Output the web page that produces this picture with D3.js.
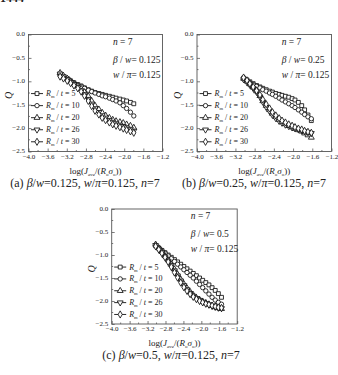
<!DOCTYPE html>
<html>
<head>
<meta charset="utf-8">
<script src="https://cdn.jsdelivr.net/npm/d3@7"></script>
<style>
  body { margin: 0; background: #fff; }
  svg { display: block; }
  text { font-family: "Liberation Serif", "Times New Roman", serif; fill: #222; }
</style>
</head>
<body>
<div id="fig"></div>
<script>
// x values of the curves, one grid per panel
var xA = [-3.34, -3.27, -3.19, -3.12, -3.05, -2.97, -2.90, -2.83, -2.75, -2.68, -2.61, -2.53, -2.46, -2.39, -2.31, -2.24, -2.17, -2.09, -2.02, -1.95, -1.87, -1.80];
var xB = [-3.03, -2.96, -2.90, -2.83, -2.76, -2.69, -2.63, -2.56, -2.49, -2.43, -2.36, -2.29, -2.23, -2.16, -2.09, -2.02, -1.96, -1.89, -1.82, -1.76, -1.69, -1.62];
var xC = [-3.02, -2.95, -2.88, -2.81, -2.74, -2.67, -2.60, -2.53, -2.46, -2.39, -2.32, -2.25, -2.18, -2.11, -2.04, -1.97, -1.90, -1.83, -1.76, -1.69, -1.62, -1.55];

// Q values, panel (a)
var qA5  = [-0.85, -0.90, -0.94, -0.99, -1.03, -1.07, -1.10, -1.14, -1.18, -1.21, -1.24, -1.26, -1.28, -1.30, -1.32, -1.34, -1.36, -1.38, -1.40, -1.42, -1.45, -1.48];
var qA10 = [-0.87, -0.91, -0.96, -1.00, -1.04, -1.08, -1.11, -1.15, -1.19, -1.22, -1.25, -1.28, -1.31, -1.33, -1.36, -1.39, -1.42, -1.46, -1.52, -1.58, -1.66, -1.74];
var qA20 = [-0.82, -0.88, -0.94, -1.00, -1.05, -1.10, -1.16, -1.23, -1.32, -1.42, -1.52, -1.60, -1.67, -1.73, -1.78, -1.82, -1.85, -1.87, -1.89, -1.92, -1.95, -1.99];
var qA26 = [-0.84, -0.90, -0.96, -1.02, -1.07, -1.13, -1.20, -1.28, -1.38, -1.48, -1.58, -1.66, -1.73, -1.78, -1.83, -1.87, -1.90, -1.93, -1.96, -1.99, -2.02, -2.06];
var qA30 = [-0.90, -0.94, -0.99, -1.04, -1.09, -1.15, -1.22, -1.31, -1.42, -1.53, -1.63, -1.71, -1.78, -1.83, -1.88, -1.92, -1.95, -1.98, -2.01, -2.04, -2.07, -2.10];

// Q values, panel (b)
var qB5  = [-0.93, -0.97, -1.01, -1.05, -1.09, -1.12, -1.15, -1.18, -1.21, -1.23, -1.26, -1.28, -1.30, -1.32, -1.34, -1.37, -1.40, -1.45, -1.52, -1.61, -1.72, -1.84];
var qB10 = [-0.95, -0.99, -1.03, -1.07, -1.11, -1.14, -1.18, -1.21, -1.25, -1.28, -1.32, -1.36, -1.40, -1.44, -1.48, -1.52, -1.56, -1.61, -1.66, -1.71, -1.76, -1.80];
var qB20 = [-0.94, -1.00, -1.06, -1.13, -1.21, -1.31, -1.42, -1.52, -1.61, -1.69, -1.76, -1.82, -1.87, -1.91, -1.95, -1.98, -2.01, -2.04, -2.07, -2.11, -2.15, -2.20];
var qB26 = [-0.96, -1.02, -1.08, -1.15, -1.23, -1.33, -1.44, -1.55, -1.64, -1.72, -1.79, -1.85, -1.89, -1.93, -1.96, -1.99, -2.01, -2.03, -2.05, -2.07, -2.09, -2.11];
var qB30 = [-0.92, -0.98, -1.05, -1.12, -1.20, -1.29, -1.39, -1.49, -1.58, -1.66, -1.73, -1.79, -1.84, -1.88, -1.92, -1.95, -1.98, -2.01, -2.03, -2.06, -2.08, -2.10];

// Q values, panel (c)
var qC5  = [-0.80, -0.85, -0.90, -0.95, -1.00, -1.05, -1.10, -1.15, -1.20, -1.25, -1.30, -1.35, -1.40, -1.45, -1.50, -1.55, -1.60, -1.65, -1.71, -1.77, -1.84, -1.92];
var qC10 = [-0.78, -0.84, -0.90, -0.96, -1.02, -1.08, -1.14, -1.20, -1.26, -1.32, -1.38, -1.44, -1.50, -1.57, -1.64, -1.71, -1.78, -1.85, -1.92, -1.98, -2.03, -2.07];
var qC20 = [-0.77, -0.85, -0.93, -1.02, -1.11, -1.21, -1.31, -1.42, -1.53, -1.63, -1.72, -1.80, -1.87, -1.93, -1.97, -2.01, -2.04, -2.07, -2.10, -2.13, -2.15, -2.17];
var qC26 = [-0.79, -0.87, -0.95, -1.04, -1.13, -1.23, -1.34, -1.45, -1.56, -1.66, -1.75, -1.83, -1.89, -1.94, -1.98, -2.02, -2.05, -2.08, -2.11, -2.13, -2.15, -2.16];
var qC30 = [-0.81, -0.88, -0.96, -1.05, -1.15, -1.26, -1.38, -1.49, -1.60, -1.70, -1.78, -1.85, -1.91, -1.96, -2.00, -2.03, -2.06, -2.08, -2.10, -2.12, -2.14, -2.15];

var ratios = [5, 10, 20, 26, 30];
var xTicks = [-4.0, -3.6, -3.2, -2.8, -2.4, -2.0, -1.6, -1.2];
var yTicks = [0.0, -0.5, -1.0, -1.5, -2.0, -2.5];
var betaLabels = ["0.125", "0.25", "0.5"];
var captions = ["(a)", "(b)", "(c)"];

var width = 338, height = 375;

var svg = d3.select("#fig").append("svg")
  .attr("width", width)
  .attr("height", height);

// page header, clipped at the top edge
svg.append("text").attr("x", 0).attr("y", 2)
  .style("font-size", "12px").style("font-weight", "bold")
  .text("1444");

var symbols = [
  d3.symbol().type(d3.symbolSquare).size(15),
  d3.symbol().type(d3.symbolCircle).size(15),
  d3.symbol().type(d3.symbolTriangle).size(15),
  d3.symbol().type(d3.symbolTriangle).size(15),
  d3.symbol().type(d3.symbolDiamond).size(15)
];
var rotations = [0, 0, 0, 180, 0];

var panels = [
  { left: 28.5, top: 34.5, w: 134, h: 117, xs: xA, qs: [qA5, qA10, qA20, qA26, qA30], cx: 85 },
  { left: 197, top: 34.5, w: 134.5, h: 117, xs: xB, qs: [qB5, qB10, qB20, qB26, qB30], cx: 254 },
  { left: 111.7, top: 209, w: 125.5, h: 115, xs: xC, qs: [qC5, qC10, qC20, qC26, qC30], cx: 171 }
];

panels.forEach(function (p, i) { drawPanel(p, i); });

function drawPanel(p, i) {
  var g = svg.append("g").attr("transform", "translate(" + p.left + "," + p.top + ")");

  var x = d3.scaleLinear().domain([-4.0, -1.2]).range([0, p.w]);
  var y = d3.scaleLinear().domain([0, -2.5]).range([0, p.h]);

  // minor ticks
  var xMinor = d3.range(-3.8, -1.3, 0.4);
  var yMinor = d3.range(-0.25, -2.4, -0.5);
  g.selectAll(".xm").data(xMinor).join("line")
    .attr("x1", d => x(d)).attr("x2", d => x(d))
    .attr("y1", p.h).attr("y2", p.h - 1.5)
    .attr("stroke", "#444").attr("stroke-width", 0.7);
  g.selectAll(".ym").data(yMinor).join("line")
    .attr("x1", 0).attr("x2", 1.5)
    .attr("y1", d => y(d)).attr("y2", d => y(d))
    .attr("stroke", "#444").attr("stroke-width", 0.7);

  var xAxis = d3.axisBottom(x).tickValues(xTicks).tickFormat(d3.format(".1f"))
    .tickSizeInner(-3).tickSizeOuter(0).tickPadding(3);
  var yAxis = d3.axisLeft(y).tickValues(yTicks).tickFormat(d3.format(".1f"))
    .tickSizeInner(-3).tickSizeOuter(0).tickPadding(3.5);

  var gx = g.append("g").attr("transform", "translate(0," + p.h + ")").call(xAxis);
  var gy = g.append("g").call(yAxis);
  [gx, gy].forEach(function (a) {
    a.select(".domain").remove();
    a.selectAll("line").attr("stroke", "#444").attr("stroke-width", 0.7);
    a.selectAll("text").style("font-size", "7px")
      .style("font-family", "Liberation Serif").attr("fill", "#333");
  });
  gx.selectAll("text").attr("dy", "0.62em");
  gy.selectAll("text").attr("dy", "0.2em");

  // frame
  g.append("rect").attr("width", p.w).attr("height", p.h)
    .attr("fill", "none").attr("stroke", "#555").attr("stroke-width", 0.9);

  // curves
  var line = d3.line().x(d => x(d[0])).y(d => y(d[1]));
  p.qs.forEach(function (q, k) {
    var pts = p.xs.map(function (xv, j) { return [xv, q[j]]; });
    g.append("path").datum(pts).attr("d", line)
      .attr("fill", "none").attr("stroke", "#111").attr("stroke-width", 0.9);
    g.selectAll(".m" + k).data(pts).join("path")
      .attr("transform", d => "translate(" + x(d[0]) + "," + y(d[1]) + ") rotate(" + rotations[k] + ")")
      .attr("d", symbols[k])
      .attr("fill", "#fff").attr("stroke", "#111").attr("stroke-width", 0.85);
  });

  // legend
  var lg = g.append("g").attr("transform", "translate(2.5," + (p.h * 0.505) + ")");
  ratios.forEach(function (r, k) {
    var row = lg.append("g").attr("transform", "translate(0," + (k * p.h * 0.103) + ")");
    row.append("line").attr("x1", 0).attr("x2", 12).attr("y1", 0).attr("y2", 0)
      .attr("stroke", "#111").attr("stroke-width", 0.9);
    row.append("path").attr("transform", "translate(6,0) rotate(" + rotations[k] + ")")
      .attr("d", symbols[k]).attr("fill", "#fff").attr("stroke", "#111").attr("stroke-width", 0.85);
    var t = row.append("text").attr("x", 15).attr("y", 2.5).style("font-size", "8px");
    t.append("tspan").style("font-style", "italic").text("R");
    t.append("tspan").attr("dy", 2).style("font-size", "4.5px").text("m");
    t.append("tspan").attr("dy", -2).text(" / ");
    t.append("tspan").style("font-style", "italic").text("t");
    t.append("tspan").text(" = " + r);
  });

  // parameter notes
  var nx = p.w * 0.63;
  var n1 = g.append("text").attr("x", nx).attr("y", p.h * 0.09).style("font-size", "9.5px");
  n1.append("tspan").style("font-style", "italic").text("n");
  n1.append("tspan").text(" = 7");
  var n2 = g.append("text").attr("x", nx).attr("y", p.h * 0.24).style("font-size", "9.5px");
  n2.append("tspan").style("font-style", "italic").text("β");
  n2.append("tspan").text(" / ");
  n2.append("tspan").style("font-style", "italic").text("w");
  n2.append("tspan").text("= " + betaLabels[i]);
  var n3 = g.append("text").attr("x", nx).attr("y", p.h * 0.37).style("font-size", "9.5px");
  n3.append("tspan").style("font-style", "italic").text("w");
  n3.append("tspan").text(" / ");
  n3.append("tspan").style("font-style", "italic").text("π");
  n3.append("tspan").text("= 0.125");

  // axis titles
  var xt = g.append("text").attr("x", p.w * 0.5).attr("y", p.h + 22)
    .attr("text-anchor", "middle").style("font-size", "9px");
  xt.append("tspan").text("log(");
  xt.append("tspan").style("font-style", "italic").text("J");
  xt.append("tspan").attr("dy", 2).style("font-size", "5px").style("font-style", "italic").text("ave");
  xt.append("tspan").attr("dy", -2).text("/(");
  xt.append("tspan").style("font-style", "italic").text("R");
  xt.append("tspan").attr("dy", 2).style("font-size", "5px").text("o");
  xt.append("tspan").attr("dy", -2).style("font-style", "italic").text("σ");
  xt.append("tspan").attr("dy", 2).style("font-size", "5px").text("o");
  xt.append("tspan").attr("dy", -2).text("))");

  g.append("text").attr("transform", "translate(-16.5," + (p.h * 0.52) + ") rotate(-90)")
    .attr("text-anchor", "middle").style("font-size", "10px").style("font-style", "italic")
    .text("Q");

  // caption
  var cap = svg.append("text")
    .attr("x", p.cx)
    .attr("y", p.top + p.h + 35)
    .attr("text-anchor", "middle").style("font-size", "12px");
  cap.append("tspan").text(captions[i] + " ");
  cap.append("tspan").style("font-style", "italic").text("β");
  cap.append("tspan").text("/");
  cap.append("tspan").style("font-style", "italic").text("w");
  cap.append("tspan").text("=" + betaLabels[i] + ", ");
  cap.append("tspan").style("font-style", "italic").text("w");
  cap.append("tspan").text("/");
  cap.append("tspan").style("font-style", "italic").text("π");
  cap.append("tspan").text("=0.125, ");
  cap.append("tspan").style("font-style", "italic").text("n");
  cap.append("tspan").text("=7");
}
</script>
</body>
</html>
